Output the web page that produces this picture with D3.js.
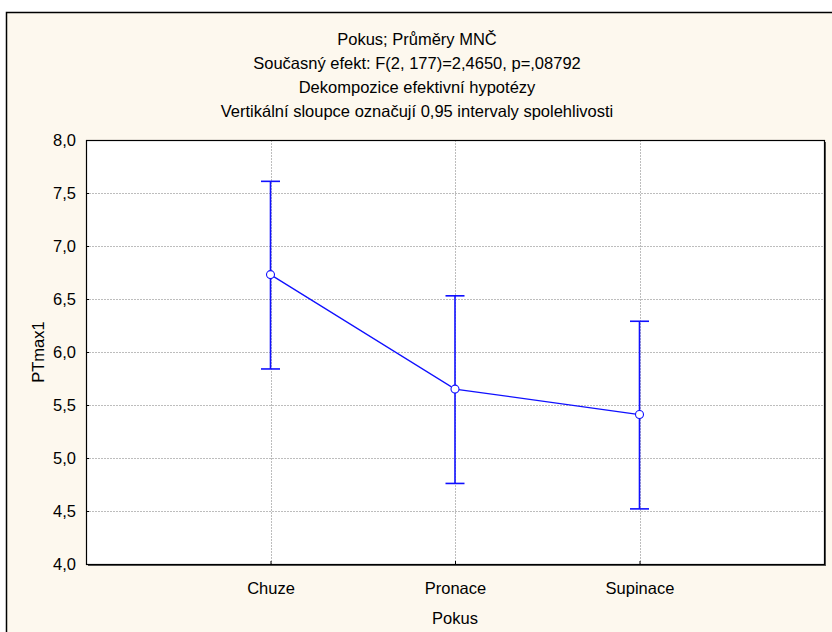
<!DOCTYPE html>
<html>
<head>
<meta charset="utf-8">
<script src="https://cdn.jsdelivr.net/npm/d3@7"></script>
<style>
  body { margin: 0; background: #ffffff; }
  text { font-family: "Liberation Sans", Arial, sans-serif; fill: #000; }
</style>
</head>
<body>
<div id="chart"></div>
<script>
// data
var categories = ["Chuze", "Pronace", "Supinace"];
var means = [6.73, 5.65, 5.41];
var upper = [7.61, 6.53, 6.29];
var lower = [5.84, 4.76, 4.52];
var yTicks = [4.0, 4.5, 5.0, 5.5, 6.0, 6.5, 7.0, 7.5, 8.0];
var titles = ["Pokus; Průměry MNČ",
    "Současný efekt: F(2, 177)=2,4650, p=,08792",
    "Dekompozice efektivní hypotézy",
    "Vertikální sloupce označují 0,95 intervaly spolehlivosti"];

var W = 832, H = 632;
var fs = "16.5px";
var margin = {top: 140, right: 8, bottom: 68, left: 86},
    width = W - margin.left - margin.right,
    height = H - margin.top - margin.bottom;

var svg = d3.select("#chart").append("svg")
    .attr("width", W)
    .attr("height", H);

// cream background with frame on top and left
svg.append("rect")
    .attr("x", 6).attr("y", 12)
    .attr("width", W - 6).attr("height", H - 12)
    .attr("fill", "#fdf8ee");
svg.append("path")
    .attr("d", "M6.5," + H + "V12.5H" + W)
    .attr("fill", "none")
    .attr("stroke", "#000")
    .attr("stroke-width", 1.5);

// titles
svg.append("g").selectAll("text")
    .data(titles)
    .enter().append("text")
    .attr("x", 417)
    .attr("y", function(d, i) { return 45 + i * 24; })
    .attr("text-anchor", "middle")
    .style("font-size", fs)
    .text(function(d) { return d; });

var g = svg.append("g")
    .attr("transform", "translate(" + margin.left + "," + margin.top + ")");

var x = d3.scalePoint()
    .domain(["", ...categories, " "])
    .range([0, width]);

var y = d3.scaleLinear()
    .domain([4, 8])
    .range([height, 0]);

// plot area shadow + white fill
g.append("rect")
    .attr("x", 2).attr("y", 2)
    .attr("width", width).attr("height", height)
    .attr("fill", "#555");
g.append("rect")
    .attr("width", width).attr("height", height)
    .attr("fill", "#fff");

// grid lines
g.append("g").selectAll("line")
    .data(yTicks.slice(1, -1))
    .enter().append("line")
    .attr("x1", 0).attr("x2", width)
    .attr("y1", function(d) { return Math.round(y(d)) + 0.5; })
    .attr("y2", function(d) { return Math.round(y(d)) + 0.5; })
    .attr("stroke", "#bdbdbd")
    .attr("stroke-dasharray", "2,1");

g.append("g").selectAll("line")
    .data(categories)
    .enter().append("line")
    .attr("x1", function(d) { return Math.round(x(d)) + 0.5; })
    .attr("x2", function(d) { return Math.round(x(d)) + 0.5; })
    .attr("y1", 0).attr("y2", height)
    .attr("stroke", "#bdbdbd")
    .attr("stroke-dasharray", "2,1");

// axes (ticks inside)
var yAxis = d3.axisLeft(y)
    .tickValues(yTicks)
    .tickSize(-3)
    .tickPadding(10)
    .tickFormat(function(d) { return d3.format(".1f")(d).replace(".", ","); });

var yg = g.append("g").call(yAxis);
yg.select(".domain").remove();
yg.selectAll("text").style("font-size", fs).attr("fill", "#000");

var xAxis = d3.axisBottom(x)
    .tickValues(categories)
    .tickSize(-3)
    .tickPadding(18);

var xg = g.append("g")
    .attr("transform", "translate(0," + height + ")")
    .call(xAxis);
xg.select(".domain").remove();
xg.selectAll("text").style("font-size", fs).attr("fill", "#000");

// plot frame
g.append("rect")
    .attr("x", 0.5).attr("y", 0.5)
    .attr("width", width).attr("height", height)
    .attr("fill", "none")
    .attr("stroke", "#000")
    .attr("stroke-width", 1.2);

// axis titles
svg.append("text")
    .attr("transform", "translate(44," + (margin.top + height / 2) + ") rotate(-90)")
    .attr("text-anchor", "middle")
    .style("font-size", fs)
    .text("PTmax1");

svg.append("text")
    .attr("x", margin.left + width / 2)
    .attr("y", 624)
    .attr("text-anchor", "middle")
    .style("font-size", fs)
    .text("Pokus");

var blue = "#1010ff";

// error bars
var bars = g.append("g").selectAll("g")
    .data(categories)
    .enter().append("g");

bars.append("line")
    .attr("x1", function(d) { return x(d); })
    .attr("x2", function(d) { return x(d); })
    .attr("y1", function(d, i) { return y(upper[i]); })
    .attr("y2", function(d, i) { return y(lower[i]); })
    .attr("stroke", blue)
    .attr("stroke-width", 1.6);

bars.append("line")
    .attr("x1", function(d) { return x(d) - 9.5; })
    .attr("x2", function(d) { return x(d) + 9.5; })
    .attr("y1", function(d, i) { return y(upper[i]); })
    .attr("y2", function(d, i) { return y(upper[i]); })
    .attr("stroke", blue)
    .attr("stroke-width", 1.6);

bars.append("line")
    .attr("x1", function(d) { return x(d) - 9.5; })
    .attr("x2", function(d) { return x(d) + 9.5; })
    .attr("y1", function(d, i) { return y(lower[i]); })
    .attr("y2", function(d, i) { return y(lower[i]); })
    .attr("stroke", blue)
    .attr("stroke-width", 1.6);

// mean line
var line = d3.line()
    .x(function(d, i) { return x(categories[i]); })
    .y(function(d) { return y(d); });

g.append("path")
    .datum(means)
    .attr("d", line)
    .attr("fill", "none")
    .attr("stroke", blue)
    .attr("stroke-width", 1.3);

g.append("g").selectAll("circle")
    .data(means)
    .enter().append("circle")
    .attr("cx", function(d, i) { return x(categories[i]); })
    .attr("cy", function(d) { return y(d); })
    .attr("r", 4)
    .attr("fill", "#fff")
    .attr("stroke", blue)
    .attr("stroke-width", 1.1);
</script>
</body>
</html>
